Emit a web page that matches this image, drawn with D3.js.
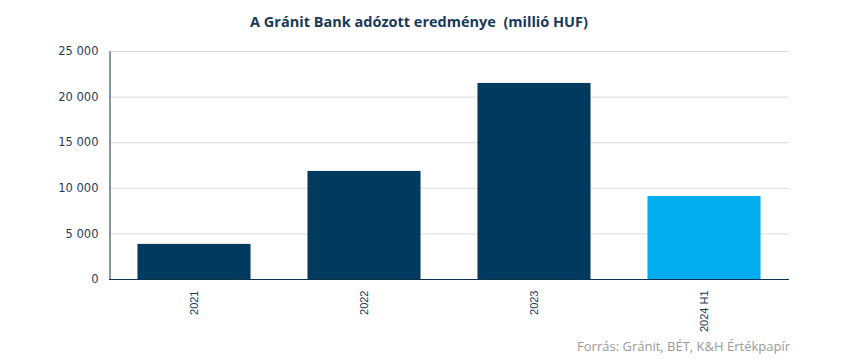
<!DOCTYPE html>
<html>
<head>
<meta charset="utf-8">
<script src="https://cdn.jsdelivr.net/npm/d3@7"></script>
<style>
  body { margin: 0; background: #fff; }
</style>
</head>
<body>
<script>
// categories and values (millió HUF)
const years = ["2021", "2022", "2023", "2024 H1"];
const profit = [3850, 11850, 21500, 9100];
const barColors = ["#003a5f", "#003a5f", "#003a5f", "#00aeef"];
const yTicks = [0, 5000, 10000, 15000, 20000, 25000];

const width = 850, height = 359;
const margin = { top: 51, right: 61, bottom: 80, left: 109 };

const svg = d3.select("body").append("svg")
  .attr("width", width)
  .attr("height", height);

// x band scale
const x = d3.scaleBand()
  .domain(years)
  .range([margin.left, width - margin.right])
  .paddingInner(0.335)
  .paddingOuter(0.1675);

// y linear scale
const y = d3.scaleLinear()
  .domain([0, 25000])
  .range([height - margin.bottom, margin.top]);

// gridlines
svg.append("g")
  .selectAll("line")
  .data(yTicks.slice(1))
  .join("line")
  .attr("x1", margin.left)
  .attr("x2", width - margin.right)
  .attr("y1", d => y(d) + 0.5)
  .attr("y2", d => y(d) + 0.5)
  .attr("stroke", "#d9d9d9")
  .attr("stroke-width", 1);

// bars
svg.append("g")
  .selectAll("rect")
  .data(profit)
  .join("rect")
  .attr("x", (d, i) => x(years[i]))
  .attr("y", d => y(d))
  .attr("width", x.bandwidth())
  .attr("height", d => y(0) - y(d))
  .attr("fill", (d, i) => barColors[i]);

// y axis
const fmt = d => d3.format(",")(d).replace(/,/g, " ");
const yAxis = svg.append("g")
  .attr("transform", `translate(${margin.left + 0.5},0)`)
  .call(d3.axisLeft(y).tickValues(yTicks).tickFormat(fmt).tickSize(0).tickPadding(11));
yAxis.select(".domain").attr("stroke", "#0d3350");
yAxis.selectAll("text")
  .attr("fill", "#1f3b5c")
  .style("font-family", "'DejaVu Sans', Verdana, sans-serif")
  .style("font-size", "11.5px");

// x axis
const xAxis = svg.append("g")
  .attr("transform", `translate(0,${y(0) + 0.5})`)
  .call(d3.axisBottom(x).tickSize(0).tickPadding(0));
xAxis.select(".domain").attr("stroke", "#0d3350").attr("d", `M${margin.left},0H${width - margin.right}`);
xAxis.selectAll("text")
  .attr("transform", "rotate(-90)")
  .attr("text-anchor", "end")
  .attr("x", -11)
  .attr("y", 0)
  .attr("dy", "0.35em")
  .attr("fill", "#1a3a5c")
  .style("font-family", "'Liberation Sans', Arial, sans-serif")
  .style("font-size", "11px");

// title
svg.append("text")
  .attr("x", 419)
  .attr("y", 27)
  .attr("text-anchor", "middle")
  .attr("fill", "#17395a")
  .style("white-space", "pre")
  .style("font-family", "'Open Sans', sans-serif")
  .style("font-weight", "700")
  .style("font-size", "14.5px")
  .text("A Gránit Bank adózott eredménye  (millió HUF)");

// source
svg.append("text")
  .attr("x", 790)
  .attr("y", 351)
  .attr("text-anchor", "end")
  .attr("fill", "#9a9a9a")
  .style("font-family", "'Open Sans', sans-serif")
  .style("font-size", "13px")
  .text("Forrás: Gránit, BÉT, K&H Értékpapír");
</script>
</body>
</html>
